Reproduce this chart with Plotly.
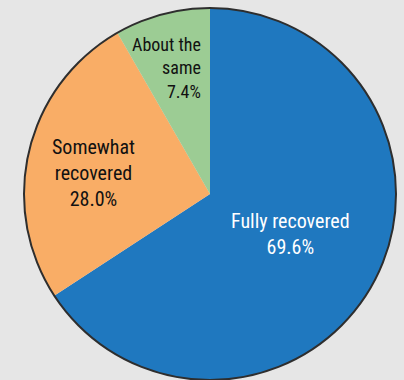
import plotly.graph_objects as go

categories = ["Fully recovered", "Somewhat recovered", "About the same"]
# percentages printed on the slices
label_pct = [69.6, 28.0, 7.4]
# slice sizes as drawn in the picture (they do not follow the printed numbers)
slice_share = [65.8, 25.9, 8.3]
colors = ["#1f78bf", "#f9ad66", "#9ccc94"]

FONT = "Roboto Condensed, Liberation Sans Narrow, DejaVu Sans Condensed, Roboto, sans-serif"

fig = go.Figure()
fig.add_trace(
    go.Pie(
        labels=categories,
        values=slice_share,
        sort=False,
        direction="clockwise",
        rotation=0,
        marker={"colors": colors, "line": {"width": 0}},
        textinfo="none",
        hoverinfo="label+text",
        text=[f"{v:.1f}%" for v in label_pct],
        showlegend=False,
    )
)
# outer outline of the pie
fig.add_trace(
    go.Pie(
        values=[1],
        sort=False,
        marker={"colors": ["rgba(0,0,0,0)"], "line": {"width": 2, "color": "#2e2e2e"}},
        textinfo="none",
        hoverinfo="skip",
        showlegend=False,
    )
)

label_text = [f"{c.replace('Somewhat ', 'Somewhat<br>').replace('the same', 'the<br>same')}<br>{v:.1f}%"
              for c, v in zip(categories, label_pct)]

fig.add_annotation(x=290, y=234, text=label_text[0], font={"color": "white", "size": 20},
                   align="center", xanchor="center")
fig.add_annotation(x=93, y=173, text=label_text[1], font={"color": "#111111", "size": 20},
                   align="center", xanchor="center")
fig.add_annotation(x=203, y=68, text=label_text[2], font={"color": "#111111", "size": 18},
                   align="right", xanchor="right")
fig.update_annotations(xref="paper", yref="paper", showarrow=False, yanchor="middle",
                       font_family=FONT)

# convert annotation pixel positions to paper coordinates
W, H = 404, 380
ml, mr, mt, mb = 24, 8, 8, 0
for a in fig.layout.annotations:
    a.x = (a.x - ml) / (W - ml - mr)
    a.y = 1 - (a.y - mt) / (H - mt - mb)

fig.update_layout(
    width=W,
    height=H,
    margin={"l": ml, "r": mr, "t": mt, "b": mb},
    paper_bgcolor="#e6e6e6",
    plot_bgcolor="#e6e6e6",
    font={"family": FONT, "size": 18},
)

fig.write_html("out.html", config={"displayModeBar": False},
               post_script="document.body.style.margin='0';")
